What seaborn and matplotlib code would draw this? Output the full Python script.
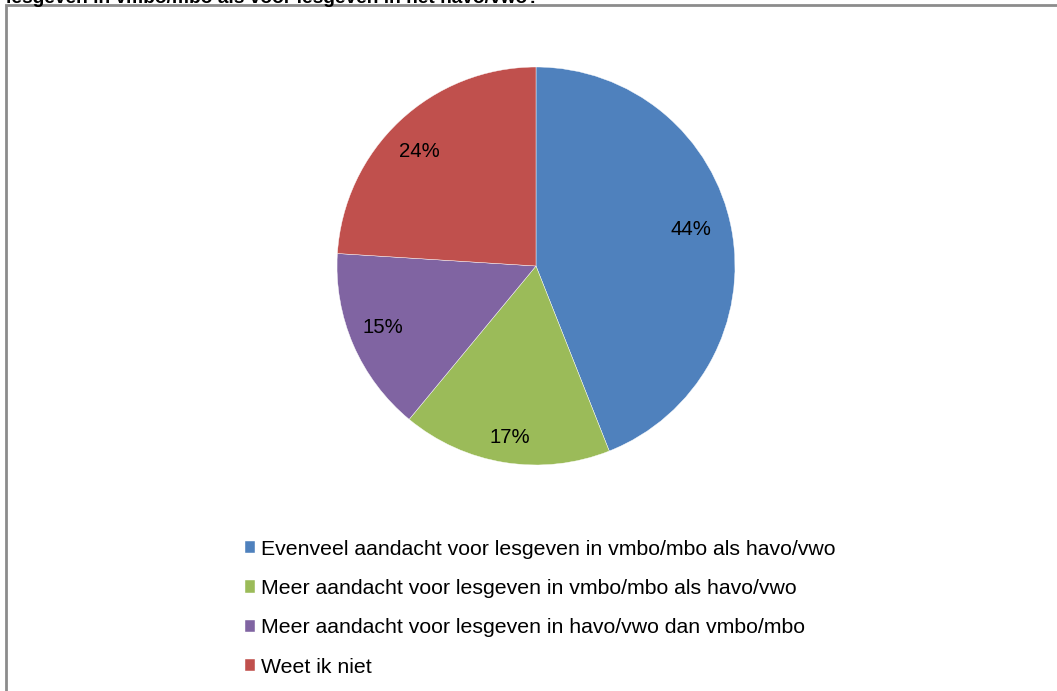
import matplotlib
matplotlib.use("Agg")
import numpy as np
import matplotlib.pyplot as plt
import matplotlib.patches as mpatches
import seaborn as sns

sns.set_theme(style="white")
plt.rcParams['font.family'] = ['Liberation Sans', 'DejaVu Sans']
plt.rcParams['text.color'] = 'black'

categories = [
    "Evenveel aandacht voor lesgeven in vmbo/mbo als havo/vwo",
    "Meer aandacht voor lesgeven in vmbo/mbo als havo/vwo",
    "Meer aandacht voor lesgeven in havo/vwo dan vmbo/mbo",
    "Weet ik niet",
]
shares = [44, 17, 15, 24]
palette = sns.color_palette(["#4F81BD", "#9BBB59", "#8064A2", "#C0504D"])
title_text = "lesgeven in vmbo/mbo als voor lesgeven in het havo/vwo?"

W, H = 1057, 691
fig = plt.figure(figsize=(W / 100, H / 100), dpi=100)
fig.patch.set_facecolor("white")

# outer chart frame (runs past the right and bottom edges)
frame = mpatches.Rectangle((6 / W, -0.05), 1.1, 1 - 5 / H + 0.05,
                           transform=fig.transFigure, fill=False,
                           edgecolor="#8c8c8c", linewidth=2, zorder=0)
fig.add_artist(frame)

fig.text(6 / W, 1 - 3 / H, title_text, fontsize=13.8, fontweight="bold",
         ha="left", va="baseline", color="black")

cx, cy, r = 536, 266, 199
ax = fig.add_axes([(cx - r) / W, (H - cy - r) / H, 2 * r / W, 2 * r / H])
wedges, _, autotexts = ax.pie(
    shares, colors=palette, startangle=90, counterclock=False,
    autopct="%1.0f%%", pctdistance=0.82, radius=1,
    wedgeprops=dict(linewidth=0.3, edgecolor="white"),
    textprops=dict(fontsize=14.7, color="black"),
)

# percentage labels: radial distance and small angular nudge per wedge
label_dist = [0.80, 0.87, 0.83, 0.82]
label_nudge = [2.3, 0.4, -1.7, 2.3]
for w, t, d, a in zip(wedges, autotexts, label_dist, label_nudge):
    mid = np.deg2rad((w.theta1 + w.theta2) / 2 + a)
    t.set_position((d * np.cos(mid), d * np.sin(mid)))

ax.set_xlim(-1, 1)
ax.set_ylim(-1, 1)
ax.set_aspect("equal")
ax.axis("off")

fig.legend(wedges, categories, loc="upper left",
           bbox_to_anchor=(234 / W, 1 - 529 / H), frameon=False,
           fontsize=15.3, handlelength=0.5, handleheight=0.5,
           handletextpad=0.25, labelspacing=0.96, borderpad=0,
           labelcolor="black")

fig.savefig("out.png", dpi=100, facecolor="white")
